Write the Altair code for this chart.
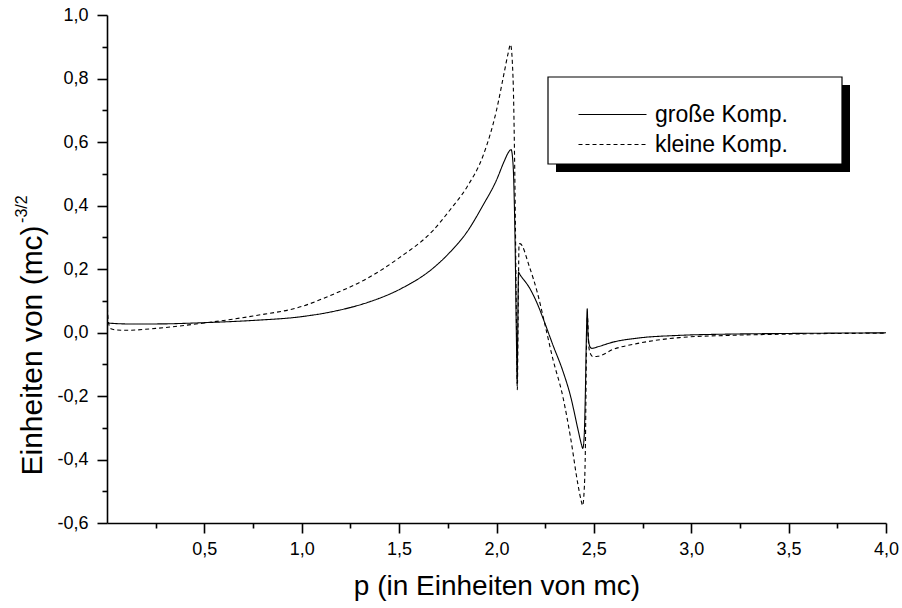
import altair as alt
import pandas as pd

# ---- data ----
series_names = ["große Komp.", "kleine Komp."]

p_gross = [0.0, 0.1, 0.25, 0.5, 0.75, 1.0, 1.16, 1.335, 1.5, 1.675, 1.76, 1.85, 1.93, 2.0, 2.04,
           2.062, 2.075, 2.085, 2.095, 2.103, 2.106, 2.109, 2.113, 2.12, 2.17, 2.21, 2.245, 2.29,
           2.34, 2.38, 2.42, 2.435, 2.443, 2.45, 2.456, 2.462, 2.466, 2.47, 2.48, 2.49, 2.52, 2.6,
           2.72, 2.94, 3.2, 3.5, 4.0]
v_gross = [0.030, 0.027, 0.027, 0.031, 0.038, 0.050, 0.066, 0.094, 0.135, 0.203, 0.252, 0.318, 0.40,
           0.48, 0.54, 0.568, 0.576, 0.53, 0.30, -0.05, -0.16, 0.0, 0.19, 0.183, 0.14, 0.09, 0.035,
           -0.04, -0.12, -0.20, -0.31, -0.35, -0.365, -0.33, -0.20, 0.0, 0.075, -0.01, -0.045,
           -0.05, -0.045, -0.03, -0.018, -0.009, -0.005, -0.003, -0.001]

p_klein = [0.0, 0.008, 0.02, 0.05, 0.1, 0.25, 0.5, 0.75, 1.0, 1.16, 1.335, 1.5, 1.675, 1.76, 1.85,
           1.93, 2.0, 2.04, 2.06, 2.072, 2.085, 2.095, 2.103, 2.107, 2.111, 2.116, 2.12, 2.17, 2.21,
           2.245, 2.29, 2.34, 2.38, 2.42, 2.435, 2.442, 2.45, 2.456, 2.462, 2.467, 2.475, 2.485,
           2.495, 2.52, 2.6, 2.72, 2.94, 3.2, 3.5, 4.0]
v_klein = [0.10, 0.03, 0.012, 0.008, 0.007, 0.013, 0.030, 0.052, 0.082, 0.12, 0.17, 0.235, 0.322,
           0.385, 0.46, 0.555, 0.70, 0.82, 0.88, 0.907, 0.80, 0.45, 0.0, -0.18, 0.05, 0.28, 0.28,
           0.205, 0.125, 0.035, -0.085, -0.20, -0.33, -0.485, -0.53, -0.545, -0.50, -0.38, -0.05,
           0.05, -0.05, -0.07, -0.076, -0.075, -0.053, -0.035, -0.016, -0.009, -0.005, -0.002]

x_major = [0.5, 1.0, 1.5, 2.0, 2.5, 3.0, 3.5, 4.0]
x_minor = [0.25, 0.75, 1.25, 1.75, 2.25, 2.75, 3.25, 3.75]
y_major = [-0.6, -0.4, -0.2, 0.0, 0.2, 0.4, 0.6, 0.8, 1.0]
y_minor = [-0.5, -0.3, -0.1, 0.1, 0.3, 0.5, 0.7, 0.9]

x_title = "p (in Einheiten von mc)"
y_title = "Einheiten von (mc)"
y_title_sup = "-3/2"

df = pd.concat([
    pd.DataFrame({"p": p_gross, "v": v_gross, "Komponente": series_names[0]}),
    pd.DataFrame({"p": p_klein, "v": v_klein, "Komponente": series_names[1]}),
], ignore_index=True)

FONT = "Liberation Sans"
X_TITLE_SIZE = 28
Y_TITLE_SIZE = 30
W, H = 779, 508

x_scale = alt.Scale(domain=[0, 4], nice=False, zero=False)
y_scale = alt.Scale(domain=[-0.6, 1.0], nice=False, zero=False)
label_expr = "replace(replace(format(datum.value, '.1f'), '.', ','), '\u2212', '-')"

# legend symbol: a wide horizontal stroke with a small nominal size (keeps rows compact)
SYM_SIZE = 17 * 17          # nominal symbol size -> radius 8.5
SYM_PATH = "M-4,0H4"        # scaled by radius -> 68 px long line

lines = alt.Chart(df).mark_line(
    color="black", strokeWidth=1.1, interpolate="monotone", clip=True
).encode(
    x=alt.X("p:Q", scale=x_scale, axis=alt.Axis(
        orient="bottom", values=x_major, labelExpr=label_expr, title=x_title,
        grid=False, domainColor="black", domainWidth=1.6, tickColor="black", tickWidth=1.6,
        tickSize=10, labelPadding=7, labelFont=FONT, labelFontSize=18, labelColor="black",
        titleFont=FONT, titleFontSize=X_TITLE_SIZE, titleFontWeight="normal", titleColor="black",
        titleBaseline="alphabetic", titleY=71, labelFlush=False)),
    y=alt.Y("v:Q", scale=y_scale, axis=alt.Axis(
        orient="left", values=y_major, labelExpr=label_expr, title=y_title,
        grid=False, domainColor="black", domainWidth=1.6, tickColor="black", tickWidth=1.6,
        tickSize=10, labelPadding=9, labelFont=FONT, labelFontSize=18, labelColor="black",
        titleFont=FONT, titleFontSize=Y_TITLE_SIZE, titleFontWeight="normal", titleColor="black",
        titleAngle=270, titleAlign="left", titleBaseline="alphabetic", titleX=-66, titleY=460,
        labelFlush=False)),
    strokeDash=alt.StrokeDash("Komponente:N", scale=alt.Scale(domain=series_names, range=[[1, 0], [4, 3]]),
                              legend=alt.Legend(
                                  title=None, orient="none", legendX=494, legendY=88,
                                  symbolType=SYM_PATH, symbolSize=SYM_SIZE, symbolStrokeWidth=1.1,
                                  symbolStrokeColor="black", labelFont=FONT, labelFontSize=23,
                                  labelColor="black", labelOffset=31, rowPadding=6, padding=0)),
)

minor = alt.Chart(df).mark_point(opacity=0, size=0).encode(
    x=alt.X("p:Q", scale=x_scale, axis=alt.Axis(
        orient="bottom", values=x_minor, labels=False, domain=False, grid=False, title=None,
        tickColor="black", tickWidth=1.6, tickSize=5)),
    y=alt.Y("v:Q", scale=y_scale, axis=alt.Axis(
        orient="left", values=y_minor, labels=False, domain=False, grid=False, title=None,
        tickColor="black", tickWidth=1.6, tickSize=5)),
)

deco = pd.DataFrame({"k": [0]})
shadow = alt.Chart(deco).mark_rect(color="black").encode(
    x=alt.value(449), x2=alt.value(743), y=alt.value(70), y2=alt.value(157))
box = alt.Chart(deco).mark_rect(fill="white", stroke="black", strokeWidth=1.2).encode(
    x=alt.value(441), x2=alt.value(735), y=alt.value(62), y2=alt.value(149))

sup_y = 460 - 8.336 * Y_TITLE_SIZE - 2
sup = alt.Chart(pd.DataFrame({"t": [y_title_sup]})).mark_text(
    angle=270, align="left", baseline="alphabetic", font=FONT, fontSize=16, color="black"
).encode(text="t:N", x=alt.value(-80), y=alt.value(sup_y))

chart = alt.layer(lines, minor, shadow, box, sup).resolve_scale(
    x="shared", y="shared"
).resolve_axis(
    x="independent", y="independent"
).properties(
    width=W, height=H,
    padding={"left": 107, "top": 15, "right": 16, "bottom": 85},
    autosize=alt.AutoSizeParams(type="none"),
    background="white",
).configure_view(stroke=None)

chart.save("out.html", embed_options={"renderer": "svg", "actions": False})
